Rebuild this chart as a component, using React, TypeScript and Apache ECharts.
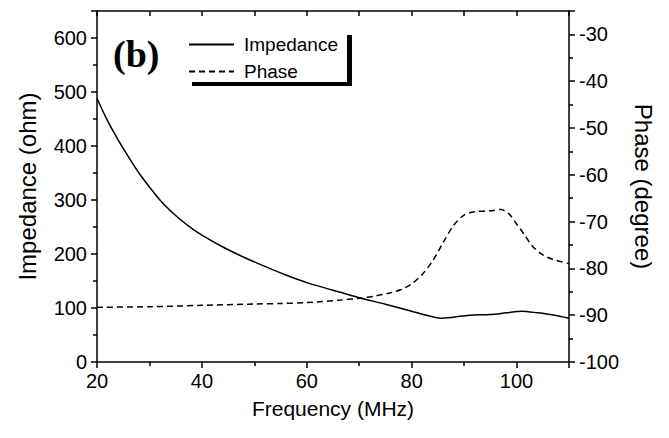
import React, { useEffect, useRef } from "react";
import * as echarts from "echarts";

const freqImp = [20, 22, 24, 26, 28, 30, 32, 34, 36, 38, 40, 44, 48, 52, 56, 60, 65, 70, 75, 80, 83, 85.5, 88, 91, 95, 98, 101, 104, 107, 110];
const impedance = [488, 447, 412, 380, 350, 324, 300, 280, 263, 248, 235, 213, 194, 177, 161, 147, 133, 119, 107, 94, 86, 81, 83, 86.5, 88, 91, 94, 91, 87, 81];

const freqPhase = [20, 30, 40, 50, 55, 60, 66, 70, 73, 76, 78, 80, 82, 84, 86, 88, 90, 92, 95, 97, 98.5, 100, 101.5, 103, 105, 107, 110];
const phase = [-88.3, -88.2, -87.9, -87.6, -87.5, -87.3, -86.8, -86.4, -85.9, -85.2, -84.5, -83.3, -81.3, -78.4, -74.5, -70.8, -68.6, -67.9, -67.7, -67.4, -68.3, -70.5, -72.8, -75.2, -77.1, -78.1, -79];

const xTicks = { min: 20, max: 110, interval: 20 };
const impAxis = { min: 0, max: 650, interval: 100 };
const phaseAxis = { min: -100, max: -25, interval: 10 };

const FONT = "Liberation Sans, Arial, sans-serif";

export default function App() {
  const ref = useRef<HTMLDivElement>(null);
  useEffect(() => {
    if (!ref.current) return;
    const chart = echarts.init(ref.current, undefined, { renderer: "svg" });
    const axisLine = { show: true, lineStyle: { color: "#000", width: 1.5 } };
    const labelStyle = { color: "#000", fontSize: 20, fontFamily: FONT };
    chart.setOption({
      animation: false,
      backgroundColor: "#fff",
      grid: { left: 97, right: 100, top: 11, bottom: 76 },
      legend: {
        data: ["Impedance", "Phase"],
        orient: "vertical",
        left: 188,
        top: 35,
        itemWidth: 45,
        itemHeight: 14,
        itemGap: 8,
        padding: 0,
        itemStyle: { opacity: 0 },
        textStyle: { color: "#000", fontSize: 19, fontFamily: FONT, padding: [0, 0, 0, 5] },
      },
      xAxis: [
        {
          type: "value",
          ...xTicks,
          position: "bottom",
          name: "Frequency (MHz)",
          nameLocation: "middle",
          nameGap: 36,
          nameTextStyle: { color: "#000", fontSize: 21, fontFamily: FONT },
          axisLine,
          axisTick: { show: true, inside: false, length: 6, lineStyle: { color: "#000", width: 1.5 } },
          minorTick: { show: true, splitNumber: 2, length: 4, lineStyle: { color: "#000", width: 1.5 } },
          axisLabel: { ...labelStyle, margin: 9, showMaxLabel: false },
          splitLine: { show: false },
        },
        {
          type: "value",
          ...xTicks,
          position: "top",
          axisLine,
          axisTick: { show: true, inside: true, length: 5, lineStyle: { color: "#000", width: 1.5 } },
          minorTick: { show: true, splitNumber: 2, length: 5, lineStyle: { color: "#000", width: 1.5 } },
          axisLabel: { show: false },
          splitLine: { show: false },
        },
      ],
      yAxis: [
        {
          type: "value",
          ...impAxis,
          position: "left",
          name: "Impedance (ohm)",
          nameLocation: "middle",
          nameGap: 58,
          nameRotate: 90,
          nameTextStyle: { color: "#000", fontSize: 24, fontFamily: FONT },
          axisLine,
          axisTick: { show: true, inside: false, length: 6, lineStyle: { color: "#000", width: 1.5 } },
          minorTick: { show: true, splitNumber: 2, length: 4, lineStyle: { color: "#000", width: 1.5 } },
          axisLabel: { ...labelStyle, margin: 10, showMaxLabel: false },
          splitLine: { show: false },
        },
        {
          type: "value",
          ...phaseAxis,
          position: "right",
          name: "Phase (degree)",
          nameLocation: "middle",
          nameGap: 62,
          nameRotate: -90,
          nameTextStyle: { color: "#000", fontSize: 24, fontFamily: FONT },
          axisLine,
          axisTick: { show: true, inside: false, length: 6, lineStyle: { color: "#000", width: 1.5 } },
          minorTick: { show: true, splitNumber: 2, length: 4, lineStyle: { color: "#000", width: 1.5 } },
          axisLabel: { ...labelStyle, margin: 10, showMaxLabel: false },
          splitLine: { show: false },
        },
      ],
      graphic: [
        {
          type: "text",
          left: 113,
          top: 35,
          style: { text: "(b)", fill: "#000", font: "bold 38px 'Liberation Serif', 'Times New Roman', serif" },
        },
        { type: "rect", shape: { x: 347, y: 35, width: 5, height: 51 }, style: { fill: "#000" } },
        { type: "rect", shape: { x: 192, y: 82, width: 160, height: 4 }, style: { fill: "#000" } },
      ],
      series: [
        {
          name: "Impedance",
          type: "line",
          xAxisIndex: 0,
          yAxisIndex: 0,
          data: freqImp.map((f, i) => [f, impedance[i]]),
          showSymbol: false,
          symbol: "none",
          smooth: 0.3,
          lineStyle: { color: "#000", width: 1.5 },
          itemStyle: { color: "#000" },
        },
        {
          name: "Phase",
          type: "line",
          xAxisIndex: 0,
          yAxisIndex: 1,
          data: freqPhase.map((f, i) => [f, phase[i]]),
          showSymbol: false,
          symbol: "none",
          smooth: 0.3,
          lineStyle: { color: "#000", width: 1.5, type: [6, 4] },
          itemStyle: { color: "#000" },
        },
      ],
    });
    return () => chart.dispose();
  }, []);
  return (
    <div
      ref={ref}
      style={{ position: "fixed", left: 0, top: 0, width: 669, height: 438, background: "#fff" }}
    />
  );
}
